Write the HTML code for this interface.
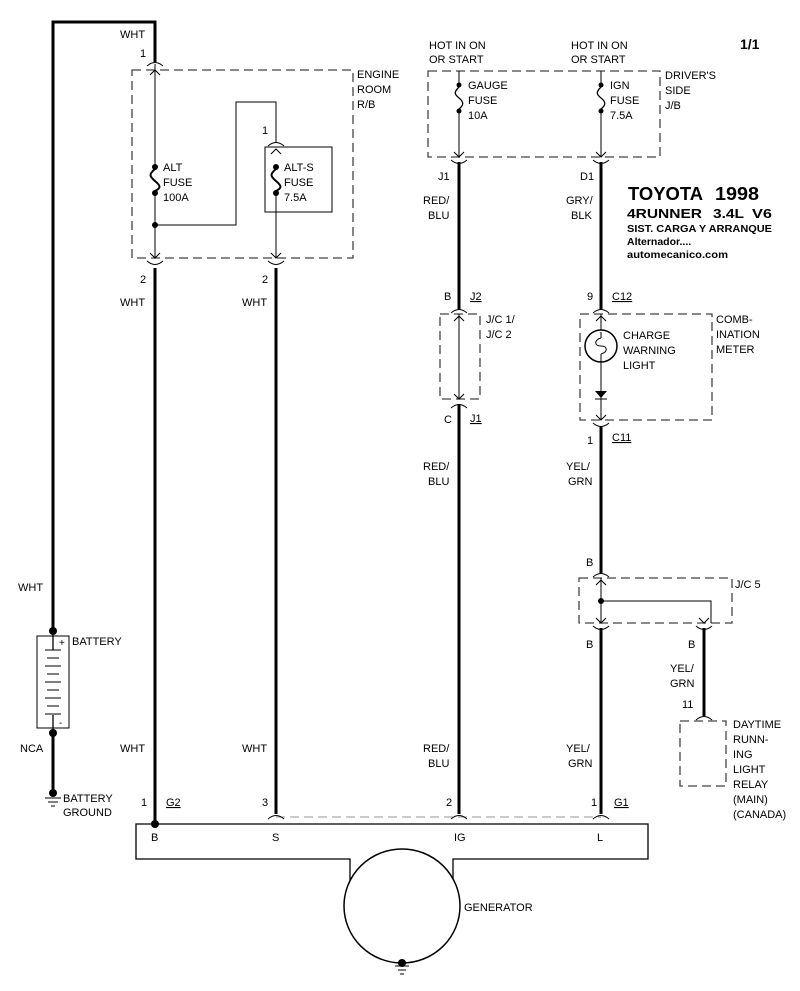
<!DOCTYPE html>
<html><head><meta charset="utf-8"><style>
body{margin:0;background:#fff}
svg{display:block}
text{font-family:"Liberation Sans",Arial,sans-serif;font-size:11px;fill:#000}
.b{font-weight:bold}
</style></head><body>
<svg width="800" height="991" viewBox="0 0 800 991" xmlns="http://www.w3.org/2000/svg">
<defs>
<g id="cu"><path d="M-8,3 Q0,-4 8,3" fill="none" stroke="#000" stroke-width="1"/></g>
<g id="cd"><path d="M-8,-3 Q0,4 8,-3" fill="none" stroke="#000" stroke-width="1"/></g>
<g id="au"><path d="M-5,5 L0,0 L5,5" fill="none" stroke="#000" stroke-width="1"/></g>
<g id="ad"><path d="M-5,-5 L0,0 L5,-5" fill="none" stroke="#000" stroke-width="1"/></g>
</defs>
<g fill="none" stroke="#000">
<g stroke-width="3">
<path d="M53,631 V22 H155 V62"/>
<path d="M53,733 V790"/>
<path d="M155,268 V824"/>
<path d="M276,268 V814"/>
<path d="M459,162 V310"/>
<path d="M459,404 V814"/>
<path d="M601,162 V310"/>
<path d="M601,426 V574"/>
<path d="M601,628 V814"/>
<path d="M704,628 V716"/>
</g>
<g stroke-width="1.3" stroke-dasharray="9,5" stroke="#444">
<rect x="132" y="70" width="221" height="188"/>
<rect x="428" y="71" width="232" height="86"/>
<rect x="440" y="314" width="40" height="85"/>
<rect x="580" y="314" width="132" height="106"/>
<rect x="579" y="578" width="153" height="45"/>
<rect x="680" y="721" width="46" height="65"/>
</g>
<path d="M276,817 H601" stroke="#aaa" stroke-width="1.3" stroke-dasharray="9,5"/>
<g stroke-width="1">
<path d="M155,64 V167 M155,193 V258"/>
<path d="M155,225 H236 V102 H276 V143 M276,167 V169 M276,193 V258"/>
<rect x="265" y="147" width="67" height="65"/>
<path d="M459,71 V85 M459,111 V157"/>
<path d="M601,71 V85 M601,111 V157"/>
<path d="M459,314 V399"/>
<path d="M601,314 V420"/>
<path d="M601,578 V623 M601,601 H711 V623"/>
</g>
<g stroke-width="2">
<path d="M155,169 C149,174 149,176 155,181 C161,186 161,188 155,191"/>
<path d="M276,169 C270,174 270,176 276,181 C282,186 282,188 276,191"/>
<path d="M459,87 C454,92 454,94 459,98 C464,102 464,105 459,109" stroke-width="1.3"/>
<path d="M601,87 C596,92 596,94 601,98 C606,102 606,105 601,109" stroke-width="1.3"/>
</g>
<circle cx="601" cy="346" r="16" stroke-width="1.5" fill="#fff"/>
<path d="M601,332 V338 M601,354 V360 M601,338 C594,340 594,346 601,346 C608,346 608,352 601,354" stroke-width="1"/>
<path d="M601,360 V395" stroke-width="1"/>
<rect x="37" y="636" width="32" height="92" stroke-width="1"/>
<path d="M53,631 V650 M53,715 V733" stroke-width="1.3"/>
<g stroke-width="1">
<path d="M45,650 H61 M47,658 H59 M45,666 H61 M47,674 H59 M45,682 H61 M47,690 H59 M45,698 H61 M47,706 H59 M45,714 H61"/>
</g>
<path d="M350,880 V859 H136 V824 H648 V859 H453 V880" stroke-width="1.3"/>
<ellipse cx="402" cy="906" rx="58" ry="57" stroke-width="1.5" fill="#fff"/>
<path d="M45,798 H61 M48,802 H58 M51,806 H55" stroke-width="1"/>
<path d="M395,966 H409 M398,970 H406 M400,974 H404" stroke-width="1"/>
</g>
<use href="#cu" x="155" y="63"/><use href="#au" x="155" y="70"/>
<use href="#ad" x="155" y="258"/><use href="#cd" x="155" y="264"/>
<use href="#cu" x="276" y="143"/><use href="#au" x="276" y="149"/>
<use href="#ad" x="276" y="258"/><use href="#cd" x="276" y="264"/>
<use href="#ad" x="459" y="157"/><use href="#cd" x="459" y="163"/>
<use href="#ad" x="601" y="157"/><use href="#cd" x="601" y="163"/>
<use href="#cu" x="459" y="310"/><use href="#au" x="459" y="316"/>
<use href="#ad" x="459" y="399"/><use href="#cu" x="459" y="405"/>
<use href="#cu" x="601" y="310"/><use href="#au" x="601" y="316"/>
<use href="#ad" x="601" y="420"/><use href="#cd" x="601" y="426"/>
<use href="#cu" x="601" y="574"/><use href="#au" x="601" y="580"/>
<use href="#ad" x="601" y="623"/><use href="#cd" x="601" y="629"/>
<use href="#ad" x="704" y="623"/><use href="#cd" x="704" y="629"/>
<use href="#cu" x="704" y="717"/>
<use href="#cu" x="276" y="816"/><use href="#cu" x="459" y="816"/><use href="#cu" x="601" y="816"/>
<path d="M595,391 H607 L601,398 Z" fill="#000"/><path d="M595,399 H607" stroke="#000"/>
<g fill="#000">
<circle cx="155" cy="167" r="3"/><circle cx="155" cy="193" r="3"/><circle cx="155" cy="225" r="3"/>
<circle cx="276" cy="167" r="3"/><circle cx="276" cy="193" r="3"/>
<circle cx="459" cy="85" r="2.5"/><circle cx="459" cy="111" r="2.5"/>
<circle cx="601" cy="85" r="2.5"/><circle cx="601" cy="111" r="2.5"/>
<circle cx="601" cy="601" r="3"/>
<circle cx="53" cy="631" r="4"/><circle cx="53" cy="733" r="4"/>
<circle cx="53" cy="793" r="4"/><circle cx="155" cy="824" r="4"/>
<circle cx="402" cy="963" r="4"/>
</g>
<text x="120" y="38">WHT</text>
<text x="140" y="57">1</text>
<text x="357" y="78">ENGINE</text><text x="357" y="93">ROOM</text><text x="357" y="108">R/B</text>
<text x="262" y="134">1</text>
<text x="163" y="171">ALT</text><text x="163" y="186">FUSE</text><text x="163" y="201">100A</text>
<text x="284" y="171">ALT-S</text><text x="284" y="186">FUSE</text><text x="284" y="201">7.5A</text>
<text x="140" y="283">2</text><text x="262" y="283">2</text>
<text x="120" y="306">WHT</text><text x="242" y="306">WHT</text>
<text x="429" y="49">HOT IN ON</text><text x="429" y="63">OR START</text>
<text x="571" y="49">HOT IN ON</text><text x="571" y="63">OR START</text>
<text class="b" x="740" y="49" style="font-size:14px">1/1</text>
<text x="665" y="79">DRIVER'S</text><text x="665" y="94">SIDE</text><text x="665" y="109">J/B</text>
<text x="468" y="89">GAUGE</text><text x="468" y="104">FUSE</text><text x="468" y="119">10A</text>
<text x="610" y="89">IGN</text><text x="610" y="104">FUSE</text><text x="610" y="119">7.5A</text>
<text x="438" y="180">J1</text><text x="580" y="180">D1</text>
<text x="423" y="204">RED/</text><text x="428" y="219">BLU</text>
<text x="566" y="204">GRY/</text><text x="571" y="219">BLK</text>
<text class="b" x="628" y="200" style="font-size:18px" textLength="75" lengthAdjust="spacingAndGlyphs">TOYOTA</text>
<text class="b" x="715" y="200" style="font-size:18px" textLength="44" lengthAdjust="spacingAndGlyphs">1998</text>
<text class="b" x="627" y="218" style="font-size:13px" textLength="75" lengthAdjust="spacingAndGlyphs">4RUNNER</text>
<text class="b" x="713" y="218" style="font-size:13px" textLength="31" lengthAdjust="spacingAndGlyphs">3.4L</text>
<text class="b" x="752" y="218" style="font-size:13px" textLength="20" lengthAdjust="spacingAndGlyphs">V6</text>
<text class="b" x="627" y="232" style="font-size:10.5px" textLength="145" lengthAdjust="spacingAndGlyphs">SIST. CARGA Y ARRANQUE</text>
<text class="b" x="627" y="245" style="font-size:10.5px">Alternador....</text>
<text class="b" x="627" y="258" style="font-size:10.5px" textLength="101" lengthAdjust="spacingAndGlyphs">automecanico.com</text>
<text x="444" y="300">B</text><text x="470" y="300" text-decoration="underline">J2</text>
<text x="587" y="300">9</text><text x="612" y="300" text-decoration="underline">C12</text>
<text x="486" y="323">J/C 1/</text><text x="486" y="338">J/C 2</text>
<text x="623" y="339">CHARGE</text><text x="623" y="354">WARNING</text><text x="623" y="369">LIGHT</text>
<text x="716" y="323">COMB-</text><text x="716" y="338">INATION</text><text x="716" y="353">METER</text>
<text x="444" y="423">C</text><text x="470" y="422" text-decoration="underline">J1</text>
<text x="587" y="444">1</text><text x="612" y="441" text-decoration="underline">C11</text>
<text x="423" y="470">RED/</text><text x="428" y="485">BLU</text>
<text x="566" y="470">YEL/</text><text x="568" y="485">GRN</text>
<text x="586" y="566">B</text>
<text x="735" y="588">J/C 5</text>
<text x="586" y="648">B</text><text x="688" y="648">B</text>
<text x="670" y="672">YEL/</text><text x="670" y="687">GRN</text>
<text x="682" y="708">11</text>
<text x="733" y="728">DAYTIME</text><text x="733" y="743">RUNN-</text><text x="733" y="758">ING</text>
<text x="733" y="773">LIGHT</text><text x="733" y="788">RELAY</text><text x="733" y="803">(MAIN)</text><text x="733" y="818">(CANADA)</text>
<text x="18" y="591">WHT</text>
<text x="72" y="645">BATTERY</text>
<text x="59" y="646" style="font-size:10px">+</text><text x="59" y="726" style="font-size:10px">-</text>
<text x="20" y="752">NCA</text>
<text x="120" y="752">WHT</text><text x="242" y="752">WHT</text>
<text x="423" y="752">RED/</text><text x="428" y="767">BLU</text>
<text x="566" y="752">YEL/</text><text x="568" y="767">GRN</text>
<text x="63" y="802">BATTERY</text><text x="63" y="816">GROUND</text>
<text x="141" y="806">1</text><text x="166" y="806" text-decoration="underline">G2</text>
<text x="262" y="806">3</text><text x="446" y="806">2</text>
<text x="591" y="806">1</text><text x="614" y="806" text-decoration="underline">G1</text>
<text x="151" y="841">B</text><text x="272" y="841">S</text><text x="454" y="841">IG</text><text x="597" y="841">L</text>
<text x="464" y="911">GENERATOR</text>
</svg>
</body></html>
